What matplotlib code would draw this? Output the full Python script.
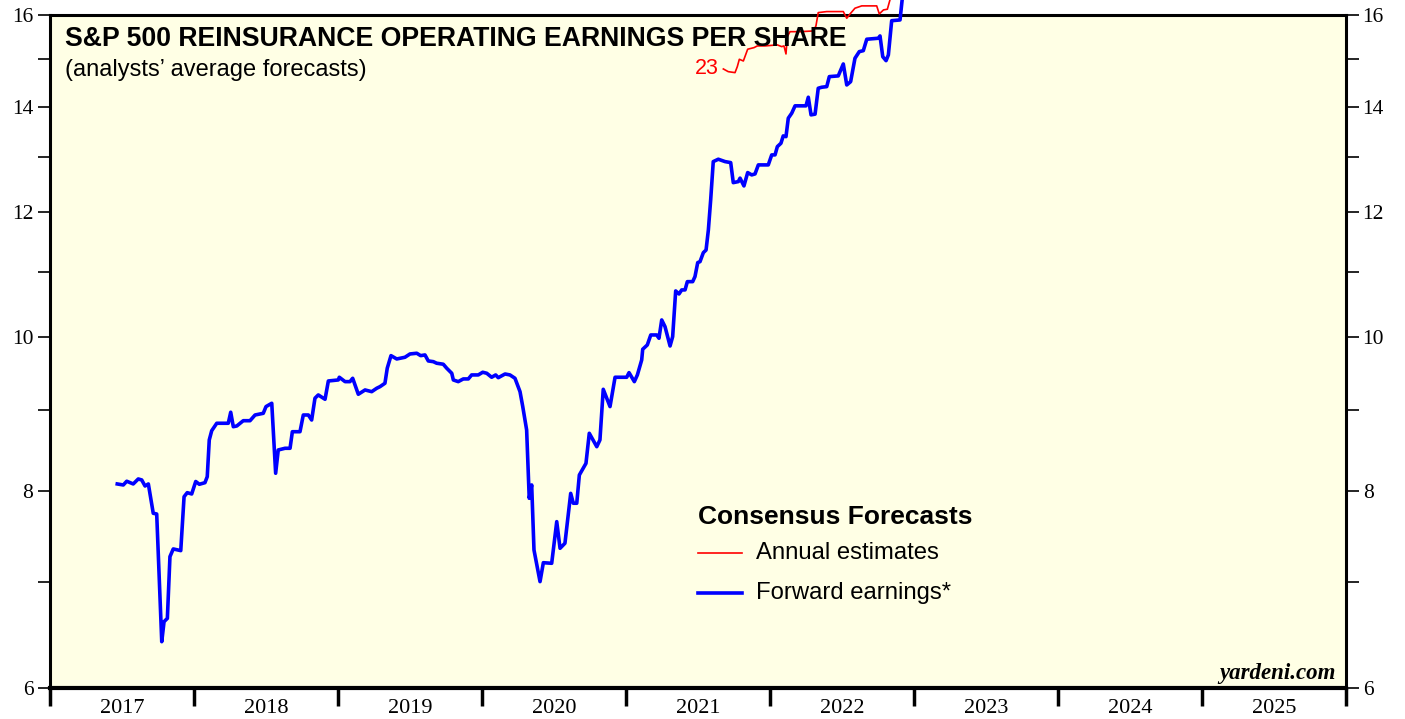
import numpy as np
import matplotlib
matplotlib.use("Agg")
import matplotlib.pyplot as plt
from matplotlib.ticker import FixedLocator, NullFormatter, FixedFormatter

# 预测远期每股收益 (蓝线)
fwd_t = [2017.467, 2017.509, 2017.533, 2017.578, 2017.613, 2017.637, 2017.660, 2017.683,
         2017.717, 2017.741, 2017.776, 2017.792, 2017.815, 2017.833, 2017.856, 2017.908,
         2017.931, 2017.953, 2017.984, 2018.012, 2018.037, 2018.076, 2018.092, 2018.106,
         2018.123, 2018.158, 2018.238, 2018.255, 2018.273, 2018.297, 2018.342, 2018.389,
         2018.424, 2018.481, 2018.500, 2018.540, 2018.567, 2018.585, 2018.632, 2018.667,
         2018.683, 2018.736, 2018.759, 2018.794, 2018.817, 2018.840, 2018.863, 2018.910,
         2018.933, 2019.002, 2019.009, 2019.049, 2019.083, 2019.102, 2019.141, 2019.188,
         2019.234, 2019.269, 2019.292, 2019.326, 2019.342, 2019.368, 2019.408, 2019.465,
         2019.500, 2019.547, 2019.574, 2019.604, 2019.627, 2019.662, 2019.685, 2019.731,
         2019.755, 2019.790, 2019.801, 2019.835, 2019.870, 2019.905, 2019.928, 2019.974,
         2020.005, 2020.033, 2020.067, 2020.095, 2020.113, 2020.160, 2020.194, 2020.229,
         2020.264, 2020.283, 2020.310, 2020.328, 2020.345, 2020.361, 2020.403, 2020.426,
         2020.484, 2020.519, 2020.542, 2020.576, 2020.616, 2020.634, 2020.658, 2020.676,
         2020.722, 2020.745, 2020.797, 2020.819, 2020.842, 2020.889, 2020.924, 2021.005,
         2021.021, 2021.058, 2021.079, 2021.109, 2021.116, 2021.148, 2021.172, 2021.213,
         2021.229, 2021.248, 2021.271, 2021.306, 2021.324, 2021.345, 2021.368, 2021.387,
         2021.410, 2021.426, 2021.463, 2021.479, 2021.498, 2021.514, 2021.537, 2021.556,
         2021.572, 2021.588, 2021.606, 2021.641, 2021.688, 2021.727, 2021.745, 2021.780,
         2021.792, 2021.819, 2021.845, 2021.873, 2021.896, 2021.919, 2021.988, 2022.012,
         2022.035, 2022.051, 2022.076, 2022.092, 2022.111, 2022.127, 2022.151, 2022.174,
         2022.250, 2022.266, 2022.285, 2022.313, 2022.335, 2022.359, 2022.394, 2022.412,
         2022.474, 2022.509, 2022.533, 2022.560, 2022.590, 2022.620, 2022.648, 2022.672,
         2022.752, 2022.764, 2022.783, 2022.806, 2022.822, 2022.845, 2022.903, 2022.925]
fwd_v = [8.078, 8.066, 8.110, 8.078, 8.137, 8.125, 8.054, 8.078,
         7.740, 7.732, 6.419, 6.609, 6.641, 7.266, 7.348, 7.330,
         7.929, 7.976, 7.961, 8.107, 8.074, 8.093, 8.164, 8.613,
         8.730, 8.825, 8.825, 8.968, 8.781, 8.790, 8.858, 8.858,
         8.932, 8.954, 9.042, 9.086, 8.205, 8.488, 8.509, 8.509,
         8.717, 8.717, 8.932, 8.932, 8.867, 9.153, 9.197, 9.139,
         9.386, 9.400, 9.437, 9.377, 9.377, 9.423, 9.206, 9.264,
         9.241, 9.287, 9.309, 9.355, 9.562, 9.739, 9.692, 9.716,
         9.763, 9.773, 9.739, 9.749, 9.664, 9.654, 9.632, 9.618,
         9.562, 9.492, 9.400, 9.377, 9.414, 9.414, 9.469, 9.469,
         9.506, 9.492, 9.437, 9.469, 9.431, 9.482, 9.469, 9.423,
         9.241, 9.042, 8.739, 7.911, 8.066, 7.337, 7.006, 7.202,
         7.196, 7.646, 7.355, 7.409, 7.968, 7.854, 7.854, 8.184,
         8.324, 8.697, 8.529, 8.613, 9.273, 9.042, 9.437, 9.437,
         9.501, 9.377, 9.469, 9.678, 9.830, 9.892, 10.037, 10.037,
         9.989, 10.259, 10.159, 9.877, 10.012, 10.702, 10.655, 10.718,
         10.718, 10.848, 10.848, 10.928, 11.153, 11.169, 11.316, 11.360,
         11.697, 12.220, 12.922, 12.967, 12.922, 12.903, 12.532, 12.551,
         12.614, 12.472, 12.717, 12.674, 12.692, 12.860, 12.860, 13.049,
         13.049, 13.207, 13.272, 13.415, 13.401, 13.766, 13.867, 14.016,
         14.016, 14.193, 13.833, 13.847, 14.380, 14.401, 14.414, 14.626,
         14.641, 14.898, 14.449, 14.519, 15.022, 15.168, 15.190, 15.445,
         15.467, 15.519, 15.057, 14.970, 15.096, 15.868, 15.885, 16.600]

# 2023年度预测 (红线)
ann_t = [2021.676, 2021.710, 2021.757, 2021.773, 2021.787, 2021.815, 2021.845, 2021.889,
         2021.912, 2021.965, 2022.051, 2022.081, 2022.097, 2022.111, 2022.120, 2022.139,
         2022.208, 2022.301, 2022.319, 2022.335, 2022.394, 2022.509, 2022.533, 2022.556,
         2022.590, 2022.637, 2022.741, 2022.759, 2022.788, 2022.815, 2022.833, 2022.845]
ann_v = [14.790, 14.732, 14.711, 14.840, 15.000, 14.963, 15.222, 15.257,
         15.295, 15.295, 15.318, 15.279, 15.295, 15.117, 15.503, 15.616,
         15.616, 15.632, 15.747, 16.056, 16.080, 16.080, 15.924, 16.025,
         16.159, 16.214, 16.214, 16.025, 16.119, 16.135, 16.355, 16.550]

years = list(range(2017, 2026))
y_major = [6, 8, 10, 12, 14, 16]
y_minor = [7, 9, 11, 13, 15]

serif = 'Liberation Serif'
sans = 'Liberation Sans'

fig = plt.figure(figsize=(14.05, 7.19), dpi=100)
ax = fig.add_axes([50 / 1405, 1 - 688 / 719, 1296 / 1405, 673 / 719])
ax.set_facecolor('#ffffe5')

ax.plot(fwd_t, fwd_v, color='#0000ff', lw=2.6, clip_on=False, solid_joinstyle='round', zorder=3)
ax.plot(ann_t, ann_v, color='#ff0000', lw=1.2, clip_on=False, zorder=3)
ax.text(ann_t[0] - 0.03, ann_v[0], '23', color='#ff0000', fontsize=15.5, family=sans,
        ha='right', va='center')

ax.set_yscale('log')
ax.set_ylim(6, 16)
ax.set_xlim(2017, 2026)

ax.yaxis.set_major_locator(FixedLocator(y_major))
ax.yaxis.set_major_formatter(FixedFormatter([str(v) for v in y_major]))
ax.yaxis.set_minor_locator(FixedLocator(y_minor))
ax.yaxis.set_minor_formatter(NullFormatter())
ax.tick_params(axis='y', which='both', direction='out', length=9, width=1.2,
               left=True, right=True, labelleft=True, labelright=True,
               labelsize=15.5, pad=3)
for lab in ax.get_yticklabels():
    lab.set_family(serif)

ax.xaxis.set_major_locator(FixedLocator(years + [2026]))
ax.xaxis.set_major_formatter(NullFormatter())
ax.xaxis.set_minor_locator(FixedLocator([y + 0.5 for y in years]))
ax.xaxis.set_minor_formatter(FixedFormatter([str(y) for y in years]))
ax.tick_params(axis='x', which='major', direction='out', length=13, width=2.5)
ax.tick_params(axis='x', which='minor', length=0, labelsize=16, pad=8)
for lab in ax.get_xticklabels(minor=True):
    lab.set_family(serif)

for side in ['left', 'right', 'top']:
    ax.spines[side].set_linewidth(2.2)
ax.spines['bottom'].set_linewidth(3)

ax.text(0.0116, 0.964, 'S&P 500 REINSURANCE OPERATING EARNINGS PER SHARE', transform=ax.transAxes,
        fontsize=19.2, fontweight='bold', family=sans, va='center', ha='left')
ax.text(0.0116, 0.919, '(analysts\u2019 average forecasts)', transform=ax.transAxes,
        fontsize=17, family=sans, va='center', ha='left')

# 图例
ax.text(0.5, 0.254, 'Consensus Forecasts', transform=ax.transAxes,
        fontsize=19, fontweight='bold', family=sans, va='center', ha='left')
ax.plot([0.5, 0.534], [0.201, 0.201], transform=ax.transAxes, color='#ff0000', lw=1.2)
ax.text(0.5448, 0.201, 'Annual estimates', transform=ax.transAxes,
        fontsize=17.2, family=sans, va='center', ha='left')
ax.plot([0.5, 0.534], [0.141, 0.141], transform=ax.transAxes, color='#0000ff', lw=2.6)
ax.text(0.5448, 0.141, 'Forward earnings*', transform=ax.transAxes,
        fontsize=17.2, family=sans, va='center', ha='left')

ax.text(0.992, 0.022, 'yardeni.com', transform=ax.transAxes, fontsize=16.5,
        family=serif, fontweight='bold', fontstyle='italic', ha='right', va='center')

fig.savefig('out.png', dpi=100)
